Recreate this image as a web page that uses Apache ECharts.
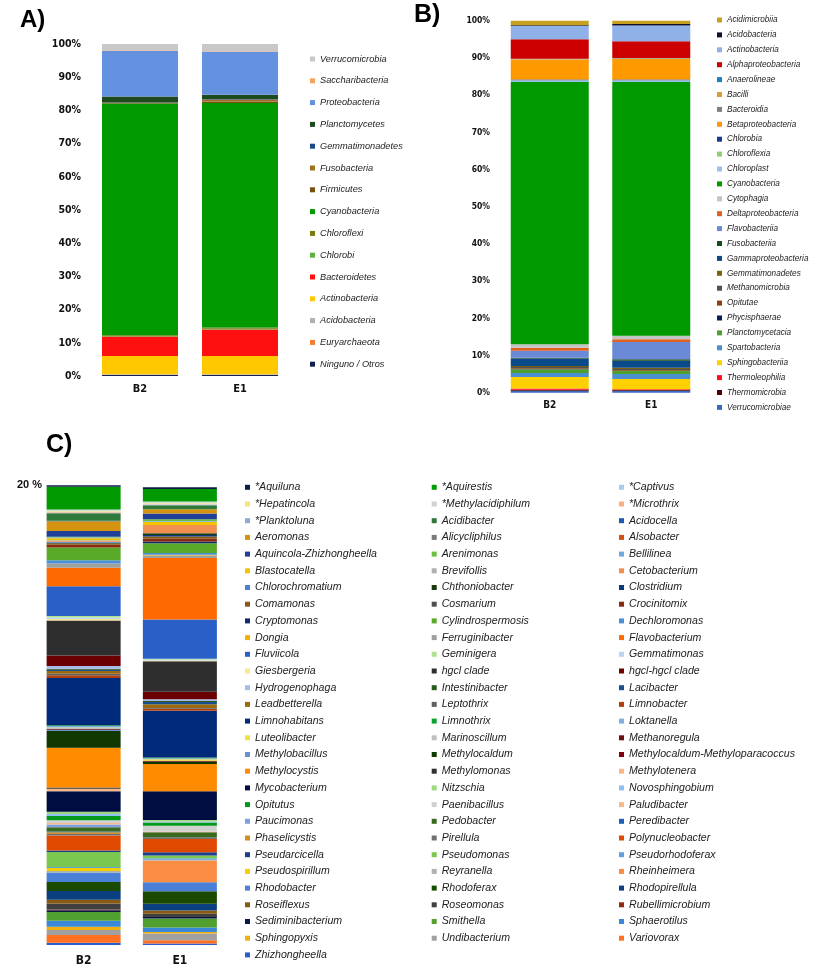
<!DOCTYPE html>
<html>
<head>
<meta charset="utf-8">
<script src="https://cdn.jsdelivr.net/npm/echarts@6/dist/echarts.min.js"></script>
<style>
html,body{margin:0;padding:0;background:#fff;}
.pane{position:absolute;left:0;top:0;width:821px;height:968px;}
</style>
</head>
<body>
<div id="ca" class="pane"></div>
<div id="cb" class="pane"></div>
<div id="cc" class="pane"></div>
<script>
// ---------- DATA ----------
var samples = ['B2', 'E1'];

// Panel A (phylum), legend order = top of stack first
var namesA = ['Verrucomicrobia','Saccharibacteria','Proteobacteria','Planctomycetes','Gemmatimonadetes','Fusobacteria','Firmicutes','Cyanobacteria','Chloroflexi','Chlorobi','Bacteroidetes','Actinobacteria','Acidobacteria','Euryarchaeota','Ninguno / Otros'];
var a_B2 = [1.9, 0.1, 13.8, 1.8, 0.1, 0.1, 0.1, 69.8, 0.4, 0.1, 5.8, 5.5, 0.1, 0.1, 0.3];
var a_E1 = [2.2, 0.1, 13.0, 1.3, 0.1, 0.6, 0.5, 67.6, 0.4, 0.2, 8.0, 5.5, 0.1, 0.1, 0.3];
var ticksA = ['0%','10%','20%','30%','40%','50%','60%','70%','80%','90%','100%'];

// Panel B (class)
var namesB = ['Acidimicrobiia','Acidobacteria','Actinobacteria','Alphaproteobacteria','Anaerolineae','Bacilli','Bacteroidia','Betaproteobacteria','Chlorobia','Chloroflexia','Chloroplast','Cyanobacteria','Cytophagia','Deltaproteobacteria','Flavobacteriia','Fusobacteriia','Gammaproteobacteria','Gemmatimonadetes','Methanomicrobia','Opitutae','Phycisphaerae','Planctomycetacia','Spartobacteria','Sphingobacteriia','Thermoleophilia','Thermomicrobia','Verrucomicrobiae'];
var b_B2 = [1.2, 0.2, 3.6, 5.2, 0.1, 0.1, 0.1, 5.3, 0.2, 0.1, 0.4, 70.5, 0.9, 0.8, 1.9, 0.2, 2.0, 0.3, 0.3, 0.2, 0.1, 1.0, 1.1, 3.1, 0.3, 0.3, 0.5];
var b_E1 = [0.9, 0.4, 4.2, 4.5, 0.1, 0.1, 0.1, 5.5, 0.2, 0.1, 0.4, 68.2, 0.9, 0.8, 4.6, 0.4, 1.9, 0.3, 0.3, 0.2, 0.0, 0.9, 1.3, 2.8, 0.2, 0.2, 0.5];

// Panel C (genus), legend order row-wise = top of stack first
var namesC = ['*Aquiluna','*Aquirestis','*Captivus','*Hepatincola','*Methylacidiphilum','*Microthrix','*Planktoluna','Acidibacter','Acidocella','Aeromonas','Alicycliphilus','Alsobacter','Aquincola-Zhizhongheella','Arenimonas','Bellilinea','Blastocatella','Brevifollis','Cetobacterium','Chlorochromatium','Chthoniobacter','Clostridium','Comamonas','Cosmarium','Crocinitomix','Cryptomonas','Cylindrospermosis','Dechloromonas','Dongia','Ferruginibacter','Flavobacterium','Fluviicola','Geminigera','Gemmatimonas','Giesbergeria','hgcl clade','hgcl-hgcl clade','Hydrogenophaga','Intestinibacter','Lacibacter','Leadbetterella','Leptothrix','Limnobacter','Limnohabitans','Limnothrix','Loktanella','Luteolibacter','Marinoscillum','Methanoregula','Methylobacillus','Methylocaldum','Methylocaldum-Methyloparacoccus','Methylocystis','Methylomonas','Methylotenera','Mycobacterium','Nitzschia','Novosphingobium','Opitutus','Paenibacillus','Paludibacter','Paucimonas','Pedobacter','Peredibacter','Phaselicystis','Pirellula','Polynucleobacter','Pseudarcicella','Pseudomonas','Pseudorhodoferax','Pseudospirillum','Reyranella','Rheinheimera','Rhodobacter','Rhodoferax','Rhodopirellula','Roseiflexus','Roseomonas','Rubellimicrobium','Sediminibacterium','Smithella','Sphaerotilus','Sphingopyxis','Undibacterium','Variovorax','Zhizhongheella'];
var c_B2 = [0.07,0.99,0.04,0.04,0.04,0.03,0.01,0.32,0.03,0.42,0,0,0.25,0.03,0.03,0.09,0.04,0.03,0.04,0.03,0,0.06,0,0.12,0,0.55,0.14,0,0.19,0.80,1.30,0.06,0.07,0.06,1.52,0.46,0.12,0.04,0.06,0.12,0.06,0.12,2.06,0.03,0.06,0.03,0.03,0.04,0.06,0.72,0.01,1.72,0.06,0.10,0.90,0.09,0.09,0.19,0.12,0.06,0.12,0.19,0.03,0.07,0.07,0.65,0.07,0.65,0.04,0.13,0.07,0,0.41,0.39,0.38,0.17,0.26,0.03,0.07,0.39,0.26,0.14,0.22,0.33,0.10];
var c_E1 = [0.07,0.55,0.04,0.04,0.06,0.01,0.01,0.17,0,0.19,0,0,0.25,0.07,0.04,0.14,0,0.36,0,0.07,0.07,0.10,0,0.12,0.07,0.43,0.07,0.04,0.10,2.68,1.70,0.04,0.04,0.03,1.33,0.33,0.07,0.04,0.10,0.17,0.03,0.09,2.03,0.03,0.04,0.07,0,0.04,0,0.10,0,1.19,0,0,1.25,0.06,0.04,0.14,0.26,0.03,0,0.22,0,0,0.07,0.58,0.14,0.12,0.06,0,0.04,0.94,0.39,0.55,0.29,0.14,0.14,0,0.07,0.39,0.19,0.07,0.29,0.14,0.07];

// ---------- STYLE ----------
var colorsA = ['#c8c8c8','#f4a460','#6490e0','#1e4a1e','#1a4a8a','#a07020','#7a5010','#009900','#7a7a10','#60b040','#ff1010','#ffc800','#b0b0b0','#f08030','#102050'];
var colorsB = ['#c8a020','#101030','#90b0e8','#cc0000','#1a80c0','#d8a030','#808080','#ff9900','#1a3a9a','#90d070','#9cc0ec','#009900','#c4c4c4','#e06020','#6a8ad8','#1a4a1a','#0a4a8a','#7a6010','#505050','#8a4010','#0a1a5a','#50a030','#4a90d0','#ffd000','#ff1020','#500000','#3a6ac0'];
var colorsC = ['#0d1b4a','#009900','#a8c8ec','#f7e37a','#d0d0d0','#f8b080','#8fa8d8','#2f7a3a','#1a5ab0','#d4930f','#7a7a7a','#d05010','#1f3f99','#6ac040','#70a8e0','#f5c400','#b0b0b0','#f09050','#4f7fd0','#1a3a0a','#0a3a7a','#8a5a14','#505050','#8a2a10','#0f2a6b','#5aaa2a','#4a90d8','#f0b400','#a0a0a0','#ff6a00','#2a5fc8','#b0e090','#b8d4f0','#f8e890','#2e2e2e','#6a0000','#a8bce8','#2a5a1a','#1a5090','#9a6a10','#606060','#b04010','#002a7a','#10a030','#80b0e0','#f0e040','#c0c0c0','#6a1010','#6a90d0','#103800','#800010','#ff8c00','#303030','#f8b888','#000d40','#a0d880','#90c0f0','#009a1a','#d0d0d0','#f8b890','#7fa0e0','#3a6a20','#1a60b8','#d09020','#707070','#e04a00','#1a3f8a','#7ac850','#60a0e0','#f4d000','#b0b0b0','#fa8c44','#4a80d8','#1a4a00','#0a4080','#8a5a10','#404040','#902a10','#0a1848','#50a030','#3a88d8','#f0b010','#a0a0a0','#ff7020','#2a60c8'];

var NARROW = "'Liberation Sans Narrow','Arial Narrow','DejaVu Sans Condensed',sans-serif";
var SANS = "'Liberation Sans',Arial,sans-serif";

function buildSeries(names, v1, v2, colors, barWidth) {
  var out = [];
  for (var i = names.length - 1; i >= 0; i--) {
    out.push({
      name: names[i], type: 'bar', stack: 'total', barWidth: barWidth,
      itemStyle: { color: colors[i] },
      data: [v1[i], v2[i]], animation: false
    });
  }
  return out;
}

function catAxis(fs, margin) {
  return { type: 'category', data: samples,
    axisLine: { show: false }, axisTick: { show: false },
    axisLabel: { fontFamily: NARROW, fontWeight: 'bold', fontSize: fs, color: '#111', margin: margin } };
}

function panelTitle(txt, left, top, size) {
  return { text: txt, left: left, top: top, padding: 0,
    textStyle: { fontFamily: SANS, fontWeight: 'bold', fontSize: size, color: '#000' } };
}

// ---------- PANEL A ----------
var chA = echarts.init(document.getElementById('ca'));
chA.setOption({
  animation: false,
  title: panelTitle('A)', 20, 8, 24),
  grid: { left: 90, top: 44, width: 200, height: 332 },
  xAxis: catAxis(11, 8),
  yAxis: { type: 'value', min: 0, max: 100, interval: 10,
    splitLine: { show: false }, axisLine: { show: false }, axisTick: { show: false },
    axisLabel: { margin: 9, fontFamily: NARROW, fontWeight: 'bold', fontSize: 10.5, color: '#111',
      formatter: function (v) { return ticksA[Math.round(v / 10)]; } } },
  legend: { orient: 'vertical', left: 310, top: 52, padding: 0, icon: 'rect', itemWidth: 5, itemHeight: 5, itemGap: 7.8,
    data: namesA, selectedMode: false,
    textStyle: { fontFamily: SANS, fontStyle: 'italic', fontSize: 9.2, color: '#222', lineHeight: 14 } },
  series: buildSeries(namesA, a_B2, a_E1, colorsA, 76)
});

// ---------- PANEL B ----------
var chB = echarts.init(document.getElementById('cb'));
chB.setOption({
  animation: false,
  title: panelTitle('B)', 414, 3, 25),
  grid: { left: 499, top: 20.7, width: 203, height: 372 },
  xAxis: catAxis(10, 8),
  yAxis: { type: 'value', min: 0, max: 100, interval: 10,
    splitLine: { show: false }, axisLine: { show: false }, axisTick: { show: false },
    axisLabel: { margin: 9, fontFamily: NARROW, fontWeight: 'bold', fontSize: 8.5, color: '#111',
      formatter: function (v) { return ticksA[Math.round(v / 10)]; } } },
  legend: { orient: 'vertical', left: 717, top: 14.5, padding: 0, icon: 'rect', itemWidth: 5, itemHeight: 5, itemGap: 3.9,
    data: namesB, selectedMode: false,
    textStyle: { fontFamily: SANS, fontStyle: 'italic', fontSize: 8.2, color: '#222', lineHeight: 11 } },
  series: buildSeries(namesB, b_B2, b_E1, colorsB, 78)
});

// ---------- PANEL C ----------
function colNames(k) { return namesC.filter(function (n, i) { return i % 3 === k; }); }
function legendC(k, left) {
  return { orient: 'vertical', left: left, top: 481.3, height: 486, padding: 0, icon: 'rect', itemWidth: 5, itemHeight: 5, itemGap: 4.7,
    data: colNames(k), selectedMode: false,
    textStyle: { fontFamily: SANS, fontStyle: 'italic', fontSize: 10.6, color: '#222', lineHeight: 12 } };
}
var chC = echarts.init(document.getElementById('cc'));
chC.setOption({
  animation: false,
  title: panelTitle('C)', 46, 433, 25),
  grid: { left: 35.5, top: 485, width: 192.5, height: 460 },
  xAxis: catAxis(12, 10),
  yAxis: { type: 'value', min: 0, max: 20, interval: 20,
    splitLine: { show: false }, axisLine: { show: false }, axisTick: { show: false },
    axisLabel: { margin: -6.5, fontFamily: SANS, fontWeight: 'bold', fontSize: 11, color: '#111',
      formatter: function (v) { return v === 20 ? '20 %' : ''; } } },
  legend: [legendC(0, 245), legendC(1, 431.7), legendC(2, 619)],
  series: buildSeries(namesC, c_B2, c_E1, colorsC, 74)
});
</script>
</body>
</html>
